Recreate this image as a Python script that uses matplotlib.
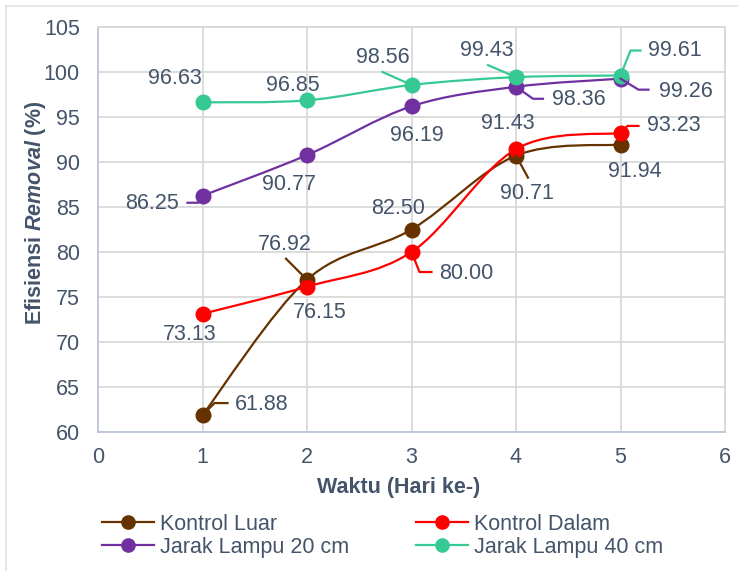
import matplotlib
matplotlib.use("Agg")
import matplotlib.pyplot as plt
from matplotlib.path import Path
from matplotlib.patches import PathPatch
from matplotlib.lines import Line2D
from matplotlib.transforms import IdentityTransform

plt.rcParams["font.family"] = ["Liberation Sans", "DejaVu Sans"]
plt.rcParams["mathtext.fontset"] = "custom"
plt.rcParams["mathtext.rm"] = "Liberation Sans:bold"
plt.rcParams["mathtext.bfit"] = "Liberation Sans:italic:bold"
plt.rcParams["mathtext.it"] = "Liberation Sans:italic:bold"

# ---- data ----
days = [1, 2, 3, 4, 5]
kontrol_luar = [61.88, 76.92, 82.50, 90.71, 91.94]
kontrol_dalam = [73.13, 76.15, 80.00, 91.43, 93.23]
jarak_20 = [86.25, 90.77, 96.19, 98.36, 99.26]
jarak_40 = [96.63, 96.85, 98.56, 99.43, 99.61]

series_names = ["Kontrol Luar", "Kontrol Dalam", "Jarak Lampu 20 cm", "Jarak Lampu 40 cm"]
series_values = [kontrol_luar, kontrol_dalam, jarak_20, jarak_40]
series_colors = ["#663300", "#FF0000", "#7030A0", "#36C994"]

x_ticks = [0, 1, 2, 3, 4, 5, 6]
y_ticks = [60, 65, 70, 75, 80, 85, 90, 95, 100, 105]

# data-label placement (pixel offsets from each point, y up)
label_offsets = [
    [(59, 11), (-22, 35), (-13, 21), (11, -38), (14, -27)],
    [(-13, -21), (13, -26), (55, -21), (-8, 26), (53, 7)],
    [(-50, -8), (-18, -29), (5, -29), (63, -13), (65, -13)],
    [(-28, 24), (-14, 15), (-29, 27), (-29, 27), (54, 25)],
]
# leader-line vertices (pixel offsets from each point, y up); None = no leader
leaders = [
    [[(0, 0), (12, 12), (25, 12)], [(0, 0), (-21, 21)], None, [(0, 0), (12, -22)], None],
    [None, None, [(0, 0), (8, -20), (20, -20)], None, [(0, 0), (7, 7), (18, 7)]],
    [[(0, 0), (-4, -7), (-15, -7)], None, None, [(0, 0), (17, -12), (27, -12)],
     [(0, 0), (18, -11), (28, -11)]],
    [None, None, [(0, 0), (-29, 13)], [(0, 0), (-28, 12)], [(0, 0), (10, 25), (20, 25)]],
]

TEXT = "#44546A"
GRID = "#D9D9D9"
FS = 15.5


def smooth_path(xs, ys):
    """Bezier path through the points using cardinal-spline tangents."""
    pts = list(zip(xs, ys))
    n = len(pts)
    verts = [pts[0]]
    codes = [Path.MOVETO]
    for i in range(n - 1):
        p0 = pts[i - 1] if i > 0 else pts[i]
        p1 = pts[i]
        p2 = pts[i + 1]
        p3 = pts[i + 2] if i + 2 < n else pts[i + 1]
        c1 = (p1[0] + (p2[0] - p0[0]) / 6.0, p1[1] + (p2[1] - p0[1]) / 6.0)
        c2 = (p2[0] - (p3[0] - p1[0]) / 6.0, p2[1] - (p3[1] - p1[1]) / 6.0)
        verts += [c1, c2, p2]
        codes += [Path.CURVE4] * 3
    return Path(verts, codes)


fig = plt.figure(figsize=(7.38, 5.71), dpi=100)
ax = fig.add_axes([98 / 738, 1 - 432 / 571, 627 / 738, 405 / 571])

ax.set_xlim(0, 6)
ax.set_ylim(60, 105)
ax.set_xticks(x_ticks)
ax.set_yticks(y_ticks)
ax.grid(True, color=GRID, linewidth=1.3)
ax.set_axisbelow(True)
for side in ["top", "right"]:
    ax.spines[side].set_color(GRID)
    ax.spines[side].set_linewidth(1.3)
for side in ["left", "bottom"]:
    ax.spines[side].set_color("#BCC6D6")
    ax.spines[side].set_linewidth(1.3)
ax.tick_params(length=0, labelsize=FS, labelcolor=TEXT)
ax.tick_params(axis="y", pad=13)
ax.tick_params(axis="x", pad=11)

ax.set_xlabel("Waktu (Hari ke-)", fontsize=FS, fontweight="bold", color=TEXT)
ax.set_ylabel(r"Efisiensi $\bfit{Removal}$ (%)", fontsize=FS, fontweight="bold", color=TEXT)
ax.xaxis.set_label_coords(0.48, -0.11)
ax.yaxis.set_label_coords(-0.080, 0.54)

for vals, color in zip(series_values, series_colors):
    ax.add_patch(PathPatch(smooth_path(days, vals), facecolor="none", edgecolor=color,
                           linewidth=1.6, zorder=3))
    ax.plot(days, vals, linestyle="none", marker="o", markersize=10.5, color=color, zorder=4)

fig.canvas.draw()
for vals, color, offs, leads in zip(series_values, series_colors, label_offsets, leaders):
    for d, v, off, lead in zip(days, vals, offs, leads):
        px, py = ax.transData.transform((d, v))
        if lead is not None:
            lx = [px + a for a, b in lead]
            ly = [py + b for a, b in lead]
            fig.add_artist(Line2D(lx, ly, color=color, linewidth=1.6,
                                  transform=IdentityTransform(), zorder=2))
        ax.annotate(f"{v:.2f}", (d, v), xytext=off, textcoords="offset pixels",
                    ha="center", va="center", fontsize=FS, color=TEXT, zorder=5)

# outer frame edges
fig.add_artist(Line2D([6 / 738, 1], [1 - 6 / 571, 1 - 6 / 571], color="#E3E3E3",
                      linewidth=1.2, transform=fig.transFigure))
fig.add_artist(Line2D([6 / 738, 6 / 738], [0, 1 - 6 / 571], color="#E3E3E3",
                      linewidth=1.2, transform=fig.transFigure))

# legend in two columns
handles = [Line2D([0], [0], color=c, linewidth=1.6, marker="o", markersize=9.5)
           for c in series_colors]
leg_kw = dict(frameon=False, fontsize=FS, labelcolor=TEXT, handlelength=2.4,
              handletextpad=0.28, labelspacing=0.08, borderpad=0, borderaxespad=0,
              loc="upper left")
leg1 = fig.legend([handles[0], handles[2]], [series_names[0], series_names[2]],
                  bbox_to_anchor=(102 / 738, 1 - 514 / 571), **leg_kw)
leg2 = fig.legend([handles[1], handles[3]], [series_names[1], series_names[3]],
                  bbox_to_anchor=(416 / 738, 1 - 514 / 571), **leg_kw)

fig.savefig("out.png", dpi=100, facecolor="white")
